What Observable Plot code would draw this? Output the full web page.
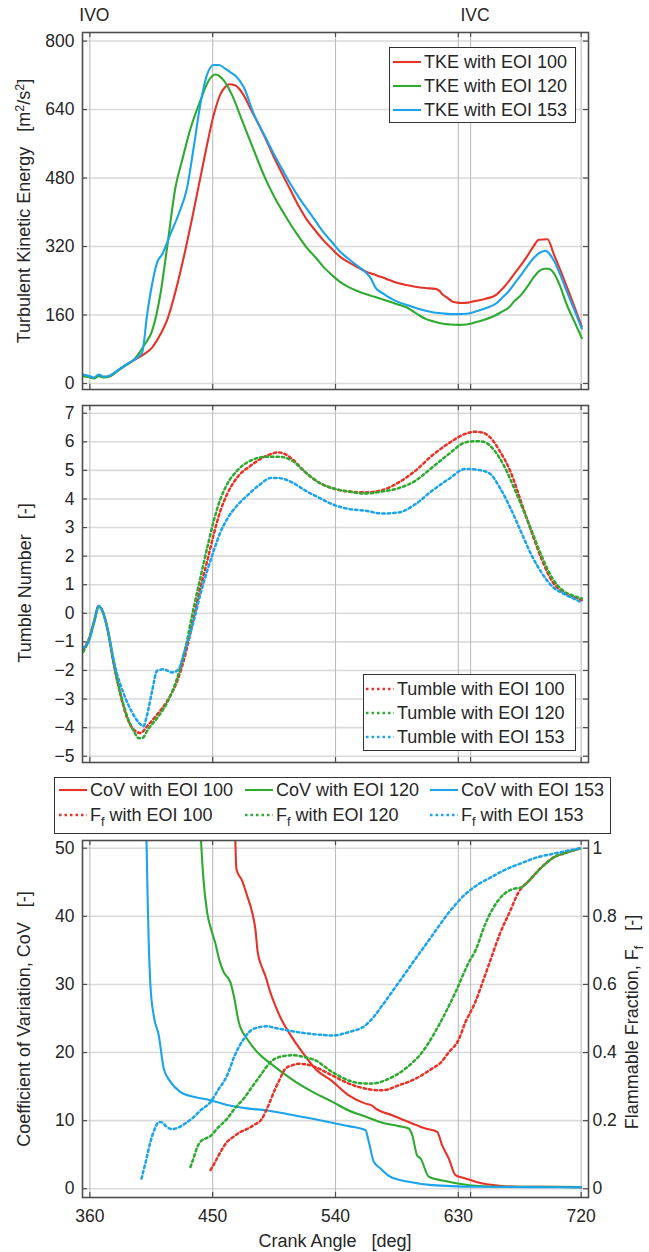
<!DOCTYPE html>
<html>
<head>
<meta charset="utf-8">
<script src="https://cdn.jsdelivr.net/npm/d3@7"></script>
<script src="https://cdn.jsdelivr.net/npm/@observablehq/plot@0.6"></script>
<style>
  body { margin: 0; background: #fff; }
  #root { position: relative; width: 649px; height: 1252px; font-family: "Liberation Sans", Arial, sans-serif; color: #262626; overflow: hidden; }
  .panel { position: absolute; left: 0; }
  .title { position: absolute; white-space: pre; font-size: 18px; line-height: 1; }
  .rot { transform: translate(-50%, -50%) rotate(-90deg); }
  .hcenter { transform: translate(-50%, -50%); }
  .legend { position: absolute; border: 1px solid #333; background: #fff; box-sizing: border-box; }
  .ltext { position: absolute; white-space: pre; font-size: 18px; line-height: 1; transform: translateY(-50%); }
  sub { font-size: 0.7em; vertical-align: -0.4em; line-height: 0; }
  sup { font-size: 0.7em; vertical-align: 0.5em; line-height: 0; }
</style>
</head>
<body>
<div id="root"></div>
<script>
// ---------------- data ----------------
const xGrid = [360, 450, 540, 630, 639, 720];
const xTickLabels = [360, 450, 540, 630, 720];
const eventAngles = [360, 639];
const eventLabels = ["IVO", "IVC"];
const tkeTicks = [0, 160, 320, 480, 640, 800];
const tumbleTicks = [-5, -4, -3, -2, -1, 0, 1, 2, 3, 4, 5, 6, 7];
const covTicks = [0, 10, 20, 30, 40, 50];
const ffTicks = [0, 0.2, 0.4, 0.6, 0.8, 1];
const eoiNames = ["100", "120", "153"];
const eoiColors = ["#e6332a", "#2eaa31", "#1ba3ec"];

// Turbulent kinetic energy [m2/s2] vs crank angle
const tke100 = [[355,19],[359,16],[363,13],[366.5,19],[370,15],[375,18],[380,29],[387,44],[393,56],[399,67],[405.6,84],[411.7,115],[416.6,148],[421.5,200],[428.8,295],[436.1,404],[443.5,521],[450.8,628],[455.7,676],[459,692],[462,699],[466.7,696],[472.8,673],[478,640],[485,597],[488.7,572],[495,528],[500.9,490],[507,452],[513.1,414],[519,383],[525.3,357],[531,335],[537.5,314],[543,297],[549.7,283],[556,272],[562,262],[568,255],[574.2,248],[580,241],[586.4,234],[592,230],[598.6,226],[606,223],[613.2,221],[616,217],[618.1,209],[622,200],[625.4,192],[629,189],[632.8,188],[637,189],[642.6,193],[650,198],[657.7,207],[662,220],[666.8,238],[671,256],[676,277],[681,300],[685.2,321],[689,336],[695.3,337],[700,302],[705,263],[710,222],[715,180],[720.5,133]];
const tke120 = [[355,17],[359,15],[363,12],[366.5,17],[370,14],[375,17],[380,29],[387,44],[393,58],[397.1,76],[401,95],[405.6,123],[411.7,209],[416.6,318],[422.7,458],[427.6,521],[433.7,595],[441,661],[447.1,708],[452,722],[458.1,708],[464.3,673],[471.6,614],[480.1,545],[488.7,478],[495,437],[500.9,404],[507,372],[513.1,343],[519,317],[525.3,295],[531,273],[537.5,253],[543,238],[549.7,225],[556,216],[562,209],[568,203],[574.2,197],[580,191],[586.4,184],[592,178],[596.2,170],[601,160],[606,151],[612,145],[618.1,140],[624,138],[630.3,137],[636,138],[642.6,143],[650,150],[657.7,160],[662,168],[666.8,177],[671,192],[676,207],[681,228],[685.2,248],[689,262],[693,268],[696,268],[700,258],[704,232],[709.5,184],[715,145],[720.5,106]];
const tke153 = [[355,21],[359,18],[363,14],[366.5,21],[370,16],[375,19],[380,30],[387,45],[393,57],[398.3,72],[402,162],[405.6,232],[409.3,283],[413,302],[419,349],[425.1,396],[431.3,458],[436.1,552],[441,653],[446,723],[450.8,744],[454.5,744],[459.4,735],[463,727],[466.7,719],[472.8,692],[480.1,630],[488.7,575],[495,535],[500.9,501],[507,466],[513.1,435],[519,408],[525.3,380],[531,354],[537.5,330],[543,309],[549.7,291],[556,275],[562,260],[566,245],[569.3,224],[575,210],[581.5,197],[587,189],[593.7,182],[600,175],[606,170],[612,166],[618.1,164],[624,162],[630.3,162],[636,163],[642.6,168],[650,176],[657.7,187],[662,200],[666.8,215],[671,233],[676,254],[681,276],[685.2,293],[690,306],[694,310],[697,302],[700.4,285],[705,252],[709.5,215],[715,172],[720.5,128]];

// Tumble number [-]
const tumble100 = [[355.1,-1.26],[359.2,-0.91],[363,-0.3],[366.5,0.26],[369.5,0.05],[372.7,-0.5],[377.5,-1.79],[382.4,-2.84],[387.3,-3.66],[392.2,-4.07],[397.1,-4.19],[402,-3.95],[409.3,-3.54],[416.6,-3.07],[424,-2.37],[430,-1.44],[436.1,-0.15],[441,0.9],[446,1.83],[450.8,2.77],[455.7,3.59],[460.6,4.17],[467.9,4.75],[477.7,5.16],[489.9,5.52],[498.4,5.63],[503,5.57],[508.2,5.4],[518,4.93],[527.7,4.58],[537.5,4.38],[549.7,4.26],[562,4.23],[574.2,4.31],[586.4,4.58],[598.6,4.99],[610.8,5.52],[623,5.95],[635.2,6.28],[642,6.35],[647,6.33],[653,6.17],[660.7,5.65],[668.3,4.95],[676,3.9],[683.6,2.85],[691.3,1.86],[699,1.1],[706.6,0.75],[714.2,0.58],[720.5,0.46]];
const tumble120 = [[355.1,-1.35],[359.2,-0.95],[363,-0.32],[366.5,0.25],[369.5,0.04],[372.7,-0.5],[377.5,-1.75],[382.4,-2.8],[387.3,-3.6],[392.2,-4.13],[396,-4.37],[398.5,-4.36],[402.5,-4.07],[409.3,-3.66],[416.6,-3.13],[424,-2.26],[430,-1.21],[436.1,0.2],[441,1.25],[446,2.3],[450.8,3.24],[455.7,4.0],[460.6,4.52],[467.9,4.99],[477.7,5.34],[489.9,5.48],[498.4,5.48],[508.2,5.34],[518,4.93],[527.7,4.58],[537.5,4.38],[549.7,4.26],[562,4.19],[574.2,4.26],[586.4,4.38],[598.6,4.64],[610.8,5.1],[623,5.57],[635.2,5.98],[642.4,6.02],[648.5,6.0],[656.2,5.71],[663.8,5.13],[673,4.14],[682.1,3.09],[691.3,1.98],[699,1.22],[706.6,0.8],[714,0.62],[720.5,0.52]];
const tumble153 = [[355.1,-1.2],[359.2,-0.98],[363,-0.33],[366.5,0.25],[369.5,0.04],[372.7,-0.5],[378.7,-1.9],[385,-2.84],[391.1,-3.48],[396,-3.83],[399.2,-3.95],[402,-3.54],[405.6,-2.72],[409.3,-2.01],[414.1,-1.96],[420.2,-2.07],[425,-1.96],[428.7,-1.44],[436.1,-0.27],[441,0.67],[446,1.49],[450.8,2.19],[455.7,2.84],[460.6,3.3],[467.9,3.77],[475.3,4.12],[485,4.52],[492.3,4.73],[498.4,4.73],[508.2,4.58],[518,4.29],[527.7,4.05],[537.5,3.82],[549.7,3.65],[562,3.59],[574.2,3.49],[586.4,3.53],[598.6,3.82],[610.8,4.29],[623,4.7],[635.2,5.05],[645.4,5.01],[653,4.89],[660.7,4.37],[668.3,3.67],[676,2.85],[683.6,2.04],[691.3,1.4],[699,0.93],[706.6,0.7],[714.2,0.52],[720.5,0.38]];

// Coefficient of variation, CoV [-]
const cov100 = [[466.5,52],[467.4,46.9],[471.6,45.2],[475.3,43],[478.9,40.6],[481.3,38.1],[483,34.7],[486,32.6],[488.7,31.2],[492.3,28.8],[495.9,26.9],[500,25],[505.7,23],[515.5,20.1],[525.3,17.6],[537.5,15.8],[549.7,13.7],[562,12.5],[566.9,12.2],[569.3,11.8],[581.5,10.8],[593.7,9.8],[606,8.85],[614.5,8.35],[618.1,6.4],[623,4.45],[627.9,2.0],[635.2,1.52],[642.6,1.03],[650,0.7],[660,0.45],[675,0.3],[690,0.3],[720,0.25]];
const cov120 = [[441.2,52],[443,46],[446,40.5],[449,38],[452,36],[455,33.5],[458.1,31.8],[463,30.3],[465.4,28.4],[469.1,24.5],[475.3,22],[485,19.6],[492.3,18.4],[500.9,17.1],[513.1,15.4],[525.3,14.0],[537.5,12.8],[549.7,11.5],[562,10.6],[574.2,9.7],[586.4,9.2],[593.7,8.85],[596.2,7.9],[599.8,4.9],[602.3,4.45],[608.4,1.76],[623,1.03],[642.6,0.44],[660,0.3],[690,0.3],[720,0.25]];
const cov153 = [[401.4,52],[402.4,42],[403.2,35.7],[404.4,29.8],[406.8,25.4],[410.5,22.5],[414.2,17.6],[419.1,15.7],[426.4,14.2],[436.1,13.5],[448.4,13.0],[460.6,12.3],[475.3,11.8],[489.9,11.5],[502,11.1],[513.1,10.65],[525,10.2],[537.5,9.7],[549.7,9.2],[562,8.6],[564.4,6.9],[568,4.0],[572.9,3.0],[580.2,1.76],[593.7,1.03],[610.8,0.54],[642.6,0.3],[680,0.25],[720,0.2]];

// Flammable fraction, Ff [-]
const ff100 = [[448.4,0.055],[452,0.08],[455.7,0.108],[460.6,0.138],[465,0.152],[470.4,0.167],[475,0.175],[480.1,0.187],[486,0.205],[489.9,0.236],[495.9,0.294],[499,0.32],[503.3,0.353],[508,0.362],[513.1,0.367],[520,0.364],[525.3,0.357],[537.5,0.333],[549.7,0.309],[562,0.294],[574.2,0.289],[586.4,0.304],[598.6,0.323],[610.8,0.353],[617,0.37],[623,0.401],[629.9,0.435],[635.2,0.489],[642.1,0.545],[648.2,0.611],[654.3,0.68],[660.4,0.748],[668,0.816],[674,0.87],[681.7,0.904],[690.8,0.943],[699.9,0.973],[709.1,0.987],[720,1.0]];
const ff120 = [[433.7,0.064],[436,0.09],[438.5,0.12],[441,0.138],[445,0.148],[448.4,0.155],[454,0.18],[460.6,0.206],[466,0.235],[472.8,0.265],[479,0.3],[485,0.333],[492.3,0.372],[500,0.388],[508.2,0.392],[517,0.387],[525.3,0.377],[537.5,0.343],[549.7,0.318],[558,0.31],[566.9,0.309],[579,0.323],[591.3,0.353],[603.5,0.401],[615.7,0.48],[627.9,0.577],[637.7,0.665],[642.6,0.7],[649.7,0.777],[655.8,0.826],[663.4,0.865],[670,0.88],[676,0.885],[681.7,0.904],[690.8,0.943],[699.9,0.973],[709.1,0.987],[720,1.0]];
const ff153 = [[397.8,0.03],[401,0.08],[404.4,0.138],[408,0.18],[410.5,0.196],[413,0.195],[416,0.183],[420.3,0.175],[425,0.18],[431.3,0.196],[436,0.21],[441,0.23],[448.4,0.255],[454,0.29],[460.6,0.333],[466,0.39],[472.8,0.44],[480,0.47],[489.9,0.477],[496,0.472],[505.2,0.465],[517.3,0.457],[529.5,0.452],[537.5,0.45],[549.7,0.46],[562,0.48],[568,0.505],[574.2,0.538],[586.4,0.606],[598.6,0.675],[610.8,0.743],[623,0.811],[635.2,0.865],[645,0.895],[654.2,0.915],[663.4,0.935],[675.6,0.955],[687.7,0.973],[699.9,0.984],[712,0.994],[720,1.0]];

// ---------------- layout ----------------
const W = 649, ML = 82, MR = 61, PW = W - ML - MR;
const X_DOMAIN = [354.6, 725.4];
const FF_TO_COV = 50;
const DOTS = "2.5 3";
const FONT = "'Liberation Sans', Arial, sans-serif";
const FRAME = "#4d4d4d";
const root = document.getElementById("root");

function decorations(yTicks, plotH, before) {
  if (before) return [
    Plot.ruleY(yTicks, {stroke: "#dadada", strokeWidth: 1.6}),
    Plot.ruleX(xGrid, {stroke: "#bdbdbd", strokeWidth: 1.1})
  ];
  return [
    Plot.ruleY(yTicks, {stroke: FRAME, strokeWidth: 1.2, insetRight: PW - 5}),
    Plot.ruleY(yTicks, {stroke: FRAME, strokeWidth: 1.2, insetLeft: PW - 5}),
    Plot.ruleX(xGrid, {stroke: FRAME, strokeWidth: 1.2, insetBottom: plotH - 5}),
    Plot.ruleX(xGrid, {stroke: FRAME, strokeWidth: 1.2, insetTop: plotH - 5}),
    Plot.frame({stroke: FRAME, strokeWidth: 1.6})
  ];
}

function seriesLines(list, yFn, dotted) {
  return list.map((data, i) => Plot.line(data, {
    x: d => d[0], y: yFn, stroke: eoiColors[i], strokeWidth: dotted ? 2.5 : 2.1,
    strokeDasharray: dotted ? DOTS : undefined, curve: "monotone-x", clip: true,
    ariaDescription: dotted ? "dotted" : "solid"
  }));
}

function place(svg, top) {
  svg.querySelectorAll('[aria-description="dotted"]').forEach(g => {
    g.querySelectorAll("path").forEach(p => p.setAttribute("stroke-dasharray", DOTS));
  });
  const div = document.createElement("div");
  div.className = "panel";
  div.style.top = top + "px";
  div.appendChild(svg);
  root.appendChild(div);
}

const style = {fontFamily: FONT, fontSize: "17.5px", color: "#262626", background: "transparent", overflow: "visible"};

// Panel 1: TKE
{
  const H = 395, MT = 32, MB = 6, PH = H - MT - MB;
  place(Plot.plot({
    width: W, height: H, marginLeft: ML, marginRight: MR, marginTop: MT, marginBottom: MB, style,
    x: {domain: X_DOMAIN, axis: null},
    y: {domain: [-14, 820]},
    marks: [
      ...decorations(tkeTicks, PH, true),
      ...seriesLines([tke100, tke120, tke153], d => d[1], false),
      ...decorations(tkeTicks, PH, false),
      Plot.axisY({ticks: tkeTicks, tickSize: 0, tickPadding: 8, label: null, fontSize: 17.5}),
      Plot.text(eventAngles, {x: d => d, text: (d, i) => eventLabels[i], frameAnchor: "top", dy: -17, dx: 4.5, fontSize: 17.5, lineAnchor: "middle", fill: "#262626"})
    ]
  }), 0);
}

// Panel 2: Tumble
{
  const H = 372, MT = 10, MB = 5, PH = H - MT - MB;
  place(Plot.plot({
    width: W, height: H, marginLeft: ML, marginRight: MR, marginTop: MT, marginBottom: MB, style,
    x: {domain: X_DOMAIN, axis: null},
    y: {domain: [-5.22, 7.27]},
    marks: [
      ...decorations(tumbleTicks, PH, true),
      ...seriesLines([tumble100, tumble120, tumble153], d => d[1], true),
      ...decorations(tumbleTicks, PH, false),
      Plot.axisY({ticks: tumbleTicks, tickSize: 0, tickPadding: 8, label: null, fontSize: 17.5})
    ]
  }), 395);
}

// Panel 3: CoV and Ff
{
  const H = 485, MT = 73, MB = 55, PH = H - MT - MB;
  place(Plot.plot({
    width: W, height: H, marginLeft: ML, marginRight: MR, marginTop: MT, marginBottom: MB, style,
    x: {domain: X_DOMAIN},
    y: {domain: [-1.28, 51.13]},
    marks: [
      ...decorations(covTicks, PH, true),
      ...seriesLines([cov100, cov120, cov153], d => d[1], false),
      ...seriesLines([ff100, ff120, ff153], d => d[1] * FF_TO_COV, true),
      ...decorations(covTicks, PH, false),
      Plot.axisY({ticks: covTicks, tickSize: 0, tickPadding: 8, label: null, fontSize: 17.5}),
      Plot.axisY({anchor: "right", ticks: ffTicks.map(v => v * FF_TO_COV), tickFormat: (d) => String(ffTicks[covTicks.indexOf(d)]), tickSize: 0, tickPadding: 4, label: null, fontSize: 17.5}),
      Plot.axisX({ticks: xTickLabels, tickSize: 0, tickPadding: 12, label: null, fontSize: 17.5})
    ]
  }), 767);
}

// ---------------- titles ----------------
function title(html, x, y, rotate) {
  const d = document.createElement("div");
  d.className = "title " + (rotate ? "rot" : "hcenter");
  d.style.left = x + "px"; d.style.top = y + "px";
  d.innerHTML = html;
  root.appendChild(d);
}
title("Turbulent Kinetic Energy   [m<sup>2</sup>/s<sup>2</sup>]", 24, 211, true);
title("Tumble Number   [-]", 25, 583, true);
title("Coefficient of Variation, CoV   [-]", 24, 1019, true);
title("Flammable Fraction, F<sub>f</sub>   [-]", 632, 1022, true);
title("Crank Angle   [deg]", 335, 1241, false);

// ---------------- legends ----------------
function legendBox(l, t, w, h) {
  const d = document.createElement("div");
  d.className = "legend";
  Object.assign(d.style, {left: l + "px", top: t + "px", width: w + "px", height: h + "px"});
  root.appendChild(d);
}
function legendItem(x, y, color, dotted, html) {
  const ns = "http://www.w3.org/2000/svg";
  const s = document.createElementNS(ns, "svg");
  s.setAttribute("width", 28); s.setAttribute("height", 6);
  Object.assign(s.style, {position: "absolute", left: x + "px", top: (y - 3) + "px"});
  const ln = document.createElementNS(ns, "line");
  ln.setAttribute("x1", 0); ln.setAttribute("x2", 28); ln.setAttribute("y1", 3); ln.setAttribute("y2", 3);
  ln.setAttribute("stroke", color); ln.setAttribute("stroke-width", dotted ? 2.5 : 2.1);
  if (dotted) ln.setAttribute("stroke-dasharray", DOTS);
  s.appendChild(ln);
  root.appendChild(s);
  const t = document.createElement("div");
  t.className = "ltext";
  t.style.left = (x + 31) + "px"; t.style.top = y + "px";
  t.innerHTML = html;
  root.appendChild(t);
}

legendBox(389, 47, 187, 76);
eoiNames.forEach((n, i) => legendItem(393, 62 + i * 24, eoiColors[i], false, "TKE with EOI " + n));

legendBox(363, 674, 213, 77);
eoiNames.forEach((n, i) => legendItem(366, 689 + i * 24, eoiColors[i], true, "Tumble with EOI " + n));

legendBox(54, 777, 557, 57);
const legCols = [59, 245, 430];
eoiNames.forEach((n, i) => legendItem(legCols[i], 790, eoiColors[i], false, "CoV with EOI " + n));
eoiNames.forEach((n, i) => legendItem(legCols[i], 815, eoiColors[i], true, "F<sub>f</sub> with EOI " + n));
</script>
</body>
</html>
